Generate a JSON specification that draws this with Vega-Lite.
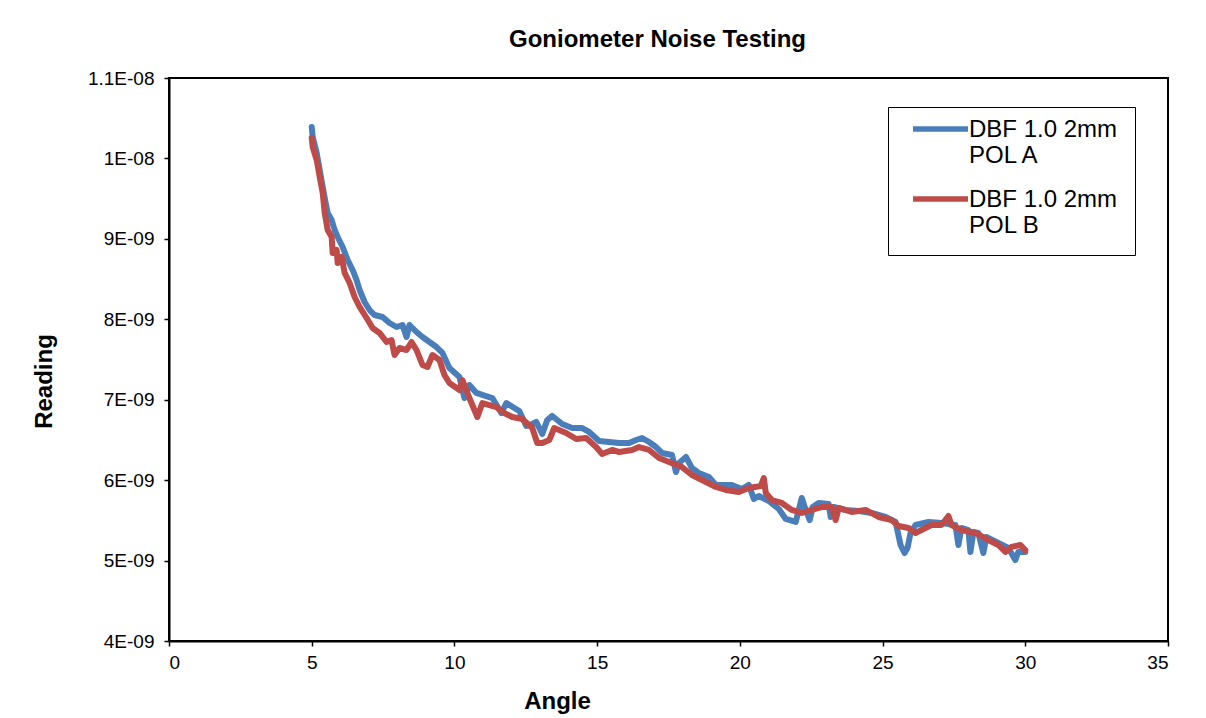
{
  "$schema": "https://vega.github.io/schema/vega-lite/v6.json",
  "width": 999,
  "height": 563,
  "autosize": {"type": "none"},
  "padding": {"left": 169, "top": 78, "right": 38, "bottom": 77},
  "background": "white",
  "title": {
    "text": "Goniometer Noise Testing",
    "font": "Liberation Sans",
    "fontSize": 24,
    "fontWeight": "bold",
    "color": "black",
    "anchor": "middle",
    "offset": 17,
    "dx": -11
  },
  "config": {
    "view": {"stroke": "black", "strokeWidth": 2},
    "axis": {
      "grid": false,
      "domainColor": "black",
      "domainWidth": 2,
      "tickColor": "black",
      "tickWidth": 1.5,
      "tickSize": 5,
      "labelFont": "Liberation Sans",
      "labelFontSize": 19,
      "labelColor": "black",
      "titleFont": "Liberation Sans",
      "titleFontSize": 24,
      "titleFontWeight": "bold",
      "titleColor": "black"
    }
  },
  "data": {
    "values": [
      {"series": "DBF 1.0 2mm POL A", "angle": 5.000, "reading": 10.391e-9},
      {"series": "DBF 1.0 2mm POL A", "angle": 5.035, "reading": 10.266e-9},
      {"series": "DBF 1.0 2mm POL A", "angle": 5.105, "reading": 10.167e-9},
      {"series": "DBF 1.0 2mm POL A", "angle": 5.175, "reading": 10.068e-9},
      {"series": "DBF 1.0 2mm POL A", "angle": 5.280, "reading": 9.856e-9},
      {"series": "DBF 1.0 2mm POL A", "angle": 5.385, "reading": 9.645e-9},
      {"series": "DBF 1.0 2mm POL A", "angle": 5.490, "reading": 9.446e-9},
      {"series": "DBF 1.0 2mm POL A", "angle": 5.559, "reading": 9.322e-9},
      {"series": "DBF 1.0 2mm POL A", "angle": 5.699, "reading": 9.234e-9},
      {"series": "DBF 1.0 2mm POL A", "angle": 5.804, "reading": 9.110e-9},
      {"series": "DBF 1.0 2mm POL A", "angle": 5.909, "reading": 9.023e-9},
      {"series": "DBF 1.0 2mm POL A", "angle": 6.084, "reading": 8.899e-9},
      {"series": "DBF 1.0 2mm POL A", "angle": 6.259, "reading": 8.737e-9},
      {"series": "DBF 1.0 2mm POL A", "angle": 6.434, "reading": 8.613e-9},
      {"series": "DBF 1.0 2mm POL A", "angle": 6.573, "reading": 8.488e-9},
      {"series": "DBF 1.0 2mm POL A", "angle": 6.678, "reading": 8.364e-9},
      {"series": "DBF 1.0 2mm POL A", "angle": 6.853, "reading": 8.215e-9},
      {"series": "DBF 1.0 2mm POL A", "angle": 7.028, "reading": 8.115e-9},
      {"series": "DBF 1.0 2mm POL A", "angle": 7.203, "reading": 8.053e-9},
      {"series": "DBF 1.0 2mm POL A", "angle": 7.483, "reading": 8.028e-9},
      {"series": "DBF 1.0 2mm POL A", "angle": 7.727, "reading": 7.954e-9},
      {"series": "DBF 1.0 2mm POL A", "angle": 7.972, "reading": 7.904e-9},
      {"series": "DBF 1.0 2mm POL A", "angle": 8.182, "reading": 7.929e-9},
      {"series": "DBF 1.0 2mm POL A", "angle": 8.322, "reading": 7.780e-9},
      {"series": "DBF 1.0 2mm POL A", "angle": 8.427, "reading": 7.929e-9},
      {"series": "DBF 1.0 2mm POL A", "angle": 8.671, "reading": 7.842e-9},
      {"series": "DBF 1.0 2mm POL A", "angle": 8.881, "reading": 7.780e-9},
      {"series": "DBF 1.0 2mm POL A", "angle": 9.126, "reading": 7.718e-9},
      {"series": "DBF 1.0 2mm POL A", "angle": 9.371, "reading": 7.655e-9},
      {"series": "DBF 1.0 2mm POL A", "angle": 9.580, "reading": 7.581e-9},
      {"series": "DBF 1.0 2mm POL A", "angle": 9.825, "reading": 7.394e-9},
      {"series": "DBF 1.0 2mm POL A", "angle": 10.175, "reading": 7.282e-9},
      {"series": "DBF 1.0 2mm POL A", "angle": 10.350, "reading": 7.021e-9},
      {"series": "DBF 1.0 2mm POL A", "angle": 10.524, "reading": 7.183e-9},
      {"series": "DBF 1.0 2mm POL A", "angle": 10.769, "reading": 7.084e-9},
      {"series": "DBF 1.0 2mm POL A", "angle": 10.979, "reading": 7.059e-9},
      {"series": "DBF 1.0 2mm POL A", "angle": 11.329, "reading": 7.021e-9},
      {"series": "DBF 1.0 2mm POL A", "angle": 11.643, "reading": 6.835e-9},
      {"series": "DBF 1.0 2mm POL A", "angle": 11.818, "reading": 6.959e-9},
      {"series": "DBF 1.0 2mm POL A", "angle": 12.098, "reading": 6.897e-9},
      {"series": "DBF 1.0 2mm POL A", "angle": 12.273, "reading": 6.860e-9},
      {"series": "DBF 1.0 2mm POL A", "angle": 12.517, "reading": 6.673e-9},
      {"series": "DBF 1.0 2mm POL A", "angle": 12.727, "reading": 6.698e-9},
      {"series": "DBF 1.0 2mm POL A", "angle": 12.867, "reading": 6.723e-9},
      {"series": "DBF 1.0 2mm POL A", "angle": 13.077, "reading": 6.574e-9},
      {"series": "DBF 1.0 2mm POL A", "angle": 13.252, "reading": 6.748e-9},
      {"series": "DBF 1.0 2mm POL A", "angle": 13.427, "reading": 6.798e-9},
      {"series": "DBF 1.0 2mm POL A", "angle": 13.776, "reading": 6.698e-9},
      {"series": "DBF 1.0 2mm POL A", "angle": 14.126, "reading": 6.648e-9},
      {"series": "DBF 1.0 2mm POL A", "angle": 14.476, "reading": 6.648e-9},
      {"series": "DBF 1.0 2mm POL A", "angle": 14.720, "reading": 6.599e-9},
      {"series": "DBF 1.0 2mm POL A", "angle": 15.070, "reading": 6.487e-9},
      {"series": "DBF 1.0 2mm POL A", "angle": 15.420, "reading": 6.474e-9},
      {"series": "DBF 1.0 2mm POL A", "angle": 15.769, "reading": 6.462e-9},
      {"series": "DBF 1.0 2mm POL A", "angle": 16.119, "reading": 6.462e-9},
      {"series": "DBF 1.0 2mm POL A", "angle": 16.364, "reading": 6.499e-9},
      {"series": "DBF 1.0 2mm POL A", "angle": 16.573, "reading": 6.524e-9},
      {"series": "DBF 1.0 2mm POL A", "angle": 16.818, "reading": 6.474e-9},
      {"series": "DBF 1.0 2mm POL A", "angle": 17.063, "reading": 6.412e-9},
      {"series": "DBF 1.0 2mm POL A", "angle": 17.273, "reading": 6.338e-9},
      {"series": "DBF 1.0 2mm POL A", "angle": 17.622, "reading": 6.313e-9},
      {"series": "DBF 1.0 2mm POL A", "angle": 17.762, "reading": 6.101e-9},
      {"series": "DBF 1.0 2mm POL A", "angle": 17.867, "reading": 6.213e-9},
      {"series": "DBF 1.0 2mm POL A", "angle": 18.112, "reading": 6.288e-9},
      {"series": "DBF 1.0 2mm POL A", "angle": 18.322, "reading": 6.151e-9},
      {"series": "DBF 1.0 2mm POL A", "angle": 18.566, "reading": 6.089e-9},
      {"series": "DBF 1.0 2mm POL A", "angle": 18.916, "reading": 6.039e-9},
      {"series": "DBF 1.0 2mm POL A", "angle": 19.161, "reading": 5.940e-9},
      {"series": "DBF 1.0 2mm POL A", "angle": 19.371, "reading": 5.940e-9},
      {"series": "DBF 1.0 2mm POL A", "angle": 19.720, "reading": 5.940e-9},
      {"series": "DBF 1.0 2mm POL A", "angle": 20.070, "reading": 5.890e-9},
      {"series": "DBF 1.0 2mm POL A", "angle": 20.315, "reading": 5.940e-9},
      {"series": "DBF 1.0 2mm POL A", "angle": 20.490, "reading": 5.766e-9},
      {"series": "DBF 1.0 2mm POL A", "angle": 20.664, "reading": 5.803e-9},
      {"series": "DBF 1.0 2mm POL A", "angle": 21.014, "reading": 5.741e-9},
      {"series": "DBF 1.0 2mm POL A", "angle": 21.364, "reading": 5.641e-9},
      {"series": "DBF 1.0 2mm POL A", "angle": 21.608, "reading": 5.517e-9},
      {"series": "DBF 1.0 2mm POL A", "angle": 21.958, "reading": 5.480e-9},
      {"series": "DBF 1.0 2mm POL A", "angle": 22.168, "reading": 5.778e-9},
      {"series": "DBF 1.0 2mm POL A", "angle": 22.308, "reading": 5.629e-9},
      {"series": "DBF 1.0 2mm POL A", "angle": 22.448, "reading": 5.504e-9},
      {"series": "DBF 1.0 2mm POL A", "angle": 22.552, "reading": 5.666e-9},
      {"series": "DBF 1.0 2mm POL A", "angle": 22.762, "reading": 5.716e-9},
      {"series": "DBF 1.0 2mm POL A", "angle": 23.112, "reading": 5.703e-9},
      {"series": "DBF 1.0 2mm POL A", "angle": 23.182, "reading": 5.542e-9},
      {"series": "DBF 1.0 2mm POL A", "angle": 23.287, "reading": 5.666e-9},
      {"series": "DBF 1.0 2mm POL A", "angle": 23.706, "reading": 5.629e-9},
      {"series": "DBF 1.0 2mm POL A", "angle": 24.161, "reading": 5.616e-9},
      {"series": "DBF 1.0 2mm POL A", "angle": 24.615, "reading": 5.592e-9},
      {"series": "DBF 1.0 2mm POL A", "angle": 25.105, "reading": 5.542e-9},
      {"series": "DBF 1.0 2mm POL A", "angle": 25.455, "reading": 5.480e-9},
      {"series": "DBF 1.0 2mm POL A", "angle": 25.629, "reading": 5.194e-9},
      {"series": "DBF 1.0 2mm POL A", "angle": 25.769, "reading": 5.094e-9},
      {"series": "DBF 1.0 2mm POL A", "angle": 25.874, "reading": 5.156e-9},
      {"series": "DBF 1.0 2mm POL A", "angle": 25.979, "reading": 5.343e-9},
      {"series": "DBF 1.0 2mm POL A", "angle": 26.154, "reading": 5.442e-9},
      {"series": "DBF 1.0 2mm POL A", "angle": 26.608, "reading": 5.480e-9},
      {"series": "DBF 1.0 2mm POL A", "angle": 27.063, "reading": 5.467e-9},
      {"series": "DBF 1.0 2mm POL A", "angle": 27.552, "reading": 5.442e-9},
      {"series": "DBF 1.0 2mm POL A", "angle": 27.657, "reading": 5.194e-9},
      {"series": "DBF 1.0 2mm POL A", "angle": 27.762, "reading": 5.405e-9},
      {"series": "DBF 1.0 2mm POL A", "angle": 28.007, "reading": 5.380e-9},
      {"series": "DBF 1.0 2mm POL A", "angle": 28.077, "reading": 5.107e-9},
      {"series": "DBF 1.0 2mm POL A", "angle": 28.182, "reading": 5.355e-9},
      {"series": "DBF 1.0 2mm POL A", "angle": 28.357, "reading": 5.343e-9},
      {"series": "DBF 1.0 2mm POL A", "angle": 28.531, "reading": 5.094e-9},
      {"series": "DBF 1.0 2mm POL A", "angle": 28.636, "reading": 5.293e-9},
      {"series": "DBF 1.0 2mm POL A", "angle": 29.056, "reading": 5.219e-9},
      {"series": "DBF 1.0 2mm POL A", "angle": 29.406, "reading": 5.156e-9},
      {"series": "DBF 1.0 2mm POL A", "angle": 29.650, "reading": 5.007e-9},
      {"series": "DBF 1.0 2mm POL A", "angle": 29.755, "reading": 5.107e-9},
      {"series": "DBF 1.0 2mm POL A", "angle": 30.000, "reading": 5.107e-9},

      {"series": "DBF 1.0 2mm POL B", "angle": 5.000, "reading": 10.254e-9},
      {"series": "DBF 1.0 2mm POL B", "angle": 5.035, "reading": 10.142e-9},
      {"series": "DBF 1.0 2mm POL B", "angle": 5.175, "reading": 9.980e-9},
      {"series": "DBF 1.0 2mm POL B", "angle": 5.280, "reading": 9.769e-9},
      {"series": "DBF 1.0 2mm POL B", "angle": 5.385, "reading": 9.570e-9},
      {"series": "DBF 1.0 2mm POL B", "angle": 5.455, "reading": 9.322e-9},
      {"series": "DBF 1.0 2mm POL B", "angle": 5.559, "reading": 9.110e-9},
      {"series": "DBF 1.0 2mm POL B", "angle": 5.699, "reading": 9.023e-9},
      {"series": "DBF 1.0 2mm POL B", "angle": 5.734, "reading": 8.824e-9},
      {"series": "DBF 1.0 2mm POL B", "angle": 5.874, "reading": 8.861e-9},
      {"series": "DBF 1.0 2mm POL B", "angle": 5.909, "reading": 8.700e-9},
      {"series": "DBF 1.0 2mm POL B", "angle": 6.049, "reading": 8.774e-9},
      {"series": "DBF 1.0 2mm POL B", "angle": 6.154, "reading": 8.576e-9},
      {"series": "DBF 1.0 2mm POL B", "angle": 6.329, "reading": 8.451e-9},
      {"series": "DBF 1.0 2mm POL B", "angle": 6.503, "reading": 8.277e-9},
      {"series": "DBF 1.0 2mm POL B", "angle": 6.678, "reading": 8.153e-9},
      {"series": "DBF 1.0 2mm POL B", "angle": 6.923, "reading": 8.016e-9},
      {"series": "DBF 1.0 2mm POL B", "angle": 7.133, "reading": 7.892e-9},
      {"series": "DBF 1.0 2mm POL B", "angle": 7.378, "reading": 7.830e-9},
      {"series": "DBF 1.0 2mm POL B", "angle": 7.622, "reading": 7.718e-9},
      {"series": "DBF 1.0 2mm POL B", "angle": 7.797, "reading": 7.742e-9},
      {"series": "DBF 1.0 2mm POL B", "angle": 7.902, "reading": 7.556e-9},
      {"series": "DBF 1.0 2mm POL B", "angle": 8.077, "reading": 7.643e-9},
      {"series": "DBF 1.0 2mm POL B", "angle": 8.322, "reading": 7.618e-9},
      {"series": "DBF 1.0 2mm POL B", "angle": 8.497, "reading": 7.718e-9},
      {"series": "DBF 1.0 2mm POL B", "angle": 8.671, "reading": 7.618e-9},
      {"series": "DBF 1.0 2mm POL B", "angle": 8.881, "reading": 7.432e-9},
      {"series": "DBF 1.0 2mm POL B", "angle": 9.056, "reading": 7.407e-9},
      {"series": "DBF 1.0 2mm POL B", "angle": 9.231, "reading": 7.556e-9},
      {"series": "DBF 1.0 2mm POL B", "angle": 9.476, "reading": 7.494e-9},
      {"series": "DBF 1.0 2mm POL B", "angle": 9.650, "reading": 7.307e-9},
      {"series": "DBF 1.0 2mm POL B", "angle": 9.825, "reading": 7.208e-9},
      {"series": "DBF 1.0 2mm POL B", "angle": 10.175, "reading": 7.121e-9},
      {"series": "DBF 1.0 2mm POL B", "angle": 10.280, "reading": 7.245e-9},
      {"series": "DBF 1.0 2mm POL B", "angle": 10.524, "reading": 7.021e-9},
      {"series": "DBF 1.0 2mm POL B", "angle": 10.804, "reading": 6.785e-9},
      {"series": "DBF 1.0 2mm POL B", "angle": 10.979, "reading": 6.959e-9},
      {"series": "DBF 1.0 2mm POL B", "angle": 11.224, "reading": 6.934e-9},
      {"series": "DBF 1.0 2mm POL B", "angle": 11.469, "reading": 6.909e-9},
      {"series": "DBF 1.0 2mm POL B", "angle": 11.748, "reading": 6.835e-9},
      {"series": "DBF 1.0 2mm POL B", "angle": 12.028, "reading": 6.785e-9},
      {"series": "DBF 1.0 2mm POL B", "angle": 12.378, "reading": 6.760e-9},
      {"series": "DBF 1.0 2mm POL B", "angle": 12.727, "reading": 6.648e-9},
      {"series": "DBF 1.0 2mm POL B", "angle": 12.902, "reading": 6.462e-9},
      {"series": "DBF 1.0 2mm POL B", "angle": 13.077, "reading": 6.462e-9},
      {"series": "DBF 1.0 2mm POL B", "angle": 13.322, "reading": 6.499e-9},
      {"series": "DBF 1.0 2mm POL B", "angle": 13.497, "reading": 6.648e-9},
      {"series": "DBF 1.0 2mm POL B", "angle": 13.916, "reading": 6.586e-9},
      {"series": "DBF 1.0 2mm POL B", "angle": 14.266, "reading": 6.512e-9},
      {"series": "DBF 1.0 2mm POL B", "angle": 14.615, "reading": 6.524e-9},
      {"series": "DBF 1.0 2mm POL B", "angle": 14.965, "reading": 6.412e-9},
      {"series": "DBF 1.0 2mm POL B", "angle": 15.175, "reading": 6.325e-9},
      {"series": "DBF 1.0 2mm POL B", "angle": 15.524, "reading": 6.375e-9},
      {"series": "DBF 1.0 2mm POL B", "angle": 15.769, "reading": 6.350e-9},
      {"series": "DBF 1.0 2mm POL B", "angle": 16.224, "reading": 6.375e-9},
      {"series": "DBF 1.0 2mm POL B", "angle": 16.469, "reading": 6.412e-9},
      {"series": "DBF 1.0 2mm POL B", "angle": 16.818, "reading": 6.375e-9},
      {"series": "DBF 1.0 2mm POL B", "angle": 17.168, "reading": 6.275e-9},
      {"series": "DBF 1.0 2mm POL B", "angle": 17.517, "reading": 6.226e-9},
      {"series": "DBF 1.0 2mm POL B", "angle": 17.972, "reading": 6.163e-9},
      {"series": "DBF 1.0 2mm POL B", "angle": 18.322, "reading": 6.064e-9},
      {"series": "DBF 1.0 2mm POL B", "angle": 18.811, "reading": 5.977e-9},
      {"series": "DBF 1.0 2mm POL B", "angle": 19.161, "reading": 5.915e-9},
      {"series": "DBF 1.0 2mm POL B", "angle": 19.510, "reading": 5.878e-9},
      {"series": "DBF 1.0 2mm POL B", "angle": 19.965, "reading": 5.853e-9},
      {"series": "DBF 1.0 2mm POL B", "angle": 20.315, "reading": 5.902e-9},
      {"series": "DBF 1.0 2mm POL B", "angle": 20.734, "reading": 5.927e-9},
      {"series": "DBF 1.0 2mm POL B", "angle": 20.839, "reading": 6.027e-9},
      {"series": "DBF 1.0 2mm POL B", "angle": 20.909, "reading": 5.840e-9},
      {"series": "DBF 1.0 2mm POL B", "angle": 21.119, "reading": 5.753e-9},
      {"series": "DBF 1.0 2mm POL B", "angle": 21.469, "reading": 5.716e-9},
      {"series": "DBF 1.0 2mm POL B", "angle": 21.818, "reading": 5.629e-9},
      {"series": "DBF 1.0 2mm POL B", "angle": 22.168, "reading": 5.592e-9},
      {"series": "DBF 1.0 2mm POL B", "angle": 22.517, "reading": 5.629e-9},
      {"series": "DBF 1.0 2mm POL B", "angle": 22.867, "reading": 5.666e-9},
      {"series": "DBF 1.0 2mm POL B", "angle": 23.217, "reading": 5.666e-9},
      {"series": "DBF 1.0 2mm POL B", "angle": 23.357, "reading": 5.504e-9},
      {"series": "DBF 1.0 2mm POL B", "angle": 23.462, "reading": 5.654e-9},
      {"series": "DBF 1.0 2mm POL B", "angle": 23.916, "reading": 5.604e-9},
      {"series": "DBF 1.0 2mm POL B", "angle": 24.406, "reading": 5.629e-9},
      {"series": "DBF 1.0 2mm POL B", "angle": 24.860, "reading": 5.542e-9},
      {"series": "DBF 1.0 2mm POL B", "angle": 25.315, "reading": 5.504e-9},
      {"series": "DBF 1.0 2mm POL B", "angle": 25.559, "reading": 5.430e-9},
      {"series": "DBF 1.0 2mm POL B", "angle": 25.909, "reading": 5.405e-9},
      {"series": "DBF 1.0 2mm POL B", "angle": 26.154, "reading": 5.343e-9},
      {"series": "DBF 1.0 2mm POL B", "angle": 26.364, "reading": 5.380e-9},
      {"series": "DBF 1.0 2mm POL B", "angle": 26.713, "reading": 5.442e-9},
      {"series": "DBF 1.0 2mm POL B", "angle": 27.063, "reading": 5.442e-9},
      {"series": "DBF 1.0 2mm POL B", "angle": 27.308, "reading": 5.554e-9},
      {"series": "DBF 1.0 2mm POL B", "angle": 27.413, "reading": 5.442e-9},
      {"series": "DBF 1.0 2mm POL B", "angle": 27.762, "reading": 5.380e-9},
      {"series": "DBF 1.0 2mm POL B", "angle": 28.252, "reading": 5.343e-9},
      {"series": "DBF 1.0 2mm POL B", "angle": 28.706, "reading": 5.256e-9},
      {"series": "DBF 1.0 2mm POL B", "angle": 29.056, "reading": 5.194e-9},
      {"series": "DBF 1.0 2mm POL B", "angle": 29.301, "reading": 5.107e-9},
      {"series": "DBF 1.0 2mm POL B", "angle": 29.510, "reading": 5.169e-9},
      {"series": "DBF 1.0 2mm POL B", "angle": 29.825, "reading": 5.194e-9},
      {"series": "DBF 1.0 2mm POL B", "angle": 30.000, "reading": 5.131e-9}
    ]
  },
  "mark": {"type": "line", "strokeWidth": 6, "strokeCap": "round", "strokeJoin": "round"},
  "encoding": {
    "x": {
      "field": "angle",
      "type": "quantitative",
      "scale": {"domain": [0, 35], "nice": false, "zero": false},
      "axis": {
        "title": "Angle",
        "values": [0, 5, 10, 15, 20, 25, 30, 35],
        "labelPadding": 7,
        "titleX": 388,
        "titleY": 60,
        "titleBaseline": "middle",
        "titleAlign": "center"
      }
    },
    "y": {
      "field": "reading",
      "type": "quantitative",
      "scale": {"domain": [4e-9, 1.1e-8], "nice": false, "zero": false},
      "axis": {
        "title": "Reading",
        "values": [4e-9, 5e-9, 6e-9, 7e-9, 8e-9, 9e-9, 1e-8, 1.1e-8],
        "labelExpr": "round(datum.value * 1e10) / 10 >= 10 ? (round(datum.value * 1e10) / 100) + 'E-08' : (round(datum.value * 1e10) / 10) + 'E-09'",
        "labelPadding": 10,
        "titleX": -125,
        "titleY": 303,
        "titleAngle": -90,
        "titleBaseline": "middle",
        "titleAlign": "center"
      }
    },
    "color": {
      "field": "series",
      "type": "nominal",
      "scale": {
        "domain": ["DBF 1.0 2mm POL A", "DBF 1.0 2mm POL B"],
        "range": ["#4A7EBB", "#BE4B48"]
      },
      "legend": {
        "title": null,
        "orient": "none",
        "legendX": 719,
        "legendY": 29,
        "strokeColor": "black",
        "fillColor": "white",
        "padding": 17,
        "symbolType": "M-0.5,-0.8H5",
        "symbolSize": 400,
        "symbolStrokeWidth": 5.5,
        "labelFont": "Liberation Sans",
        "labelFontSize": 24,
        "labelColor": "black",
        "labelBaseline": "alphabetic",
        "labelLimit": 300,
        "labelOffset": 38,
        "rowPadding": 20,
        "labelExpr": "[slice(datum.label, 0, 11), slice(datum.label, 12)]"
      }
    }
  }
}
